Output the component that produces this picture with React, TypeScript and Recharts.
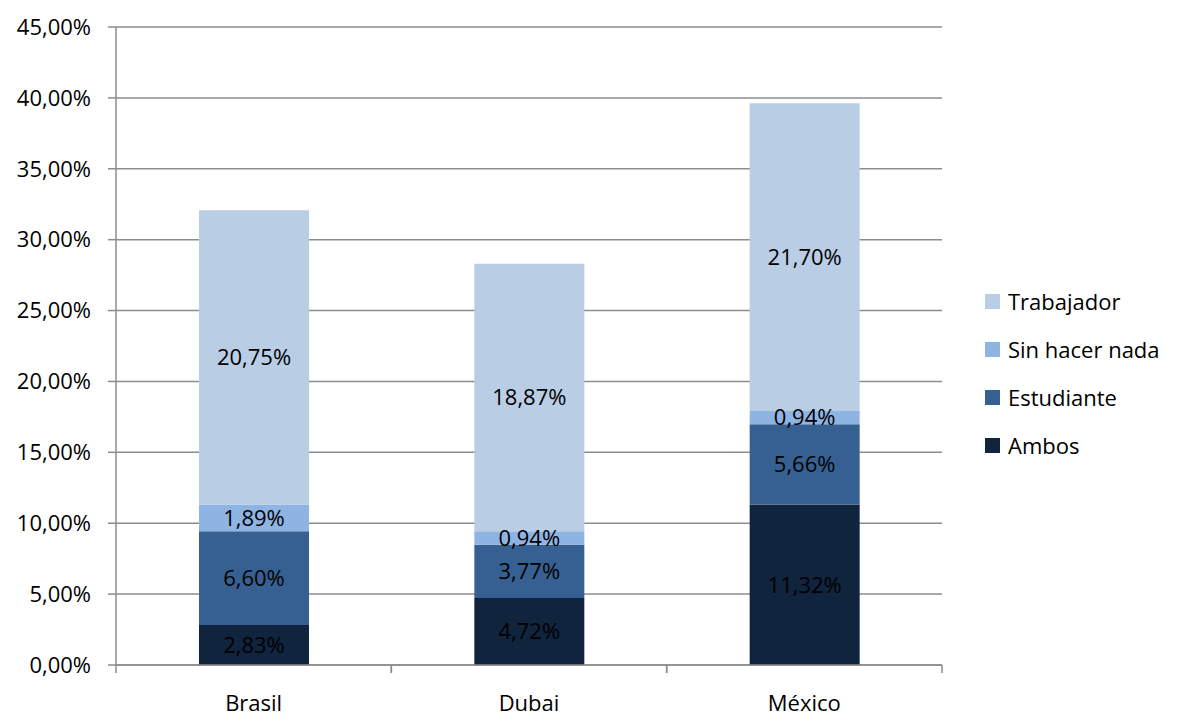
import { Bar, BarChart, CartesianGrid, LabelList, XAxis, YAxis } from "recharts";

const countries = ["Brasil", "Dubai", "México"];
const ambos = [2.83, 4.72, 11.32];
const estudiante = [6.6, 3.77, 5.66];
const sinHacerNada = [1.89, 0.94, 0.94];
const trabajador = [20.75, 18.87, 21.7];
const yTicks = [0, 5, 10, 15, 20, 25, 30, 35, 40, 45];

const series = [
  { key: "ambos", name: "Ambos", color: "#10243e" },
  { key: "estudiante", name: "Estudiante", color: "#376092" },
  { key: "sinHacerNada", name: "Sin hacer nada", color: "#8eb4e3" },
  { key: "trabajador", name: "Trabajador", color: "#b9cde5" },
];

const data = countries.map((c, i) => ({
  country: c,
  ambos: ambos[i],
  estudiante: estudiante[i],
  sinHacerNada: sinHacerNada[i],
  trabajador: trabajador[i],
}));

const FONT = "'Open Sans', sans-serif";
const GRID = "#8c8c8c";
const pct = (v: number) => v.toFixed(2).replace(".", ",") + "%";

// Excel-style category axis: tick marks on the boundaries between categories
const CategoryTick = (props: any) => {
  const { x, y, payload } = props;
  const half = 826 / 3 / 2;
  return (
    <g>
      <line x1={x - half} y1={y - 8} x2={x - half} y2={y} stroke={GRID} strokeWidth={1.5} />
      <line x1={x + half} y1={y - 8} x2={x + half} y2={y} stroke={GRID} strokeWidth={1.5} />
      <text x={x} y={y + 38} textAnchor="middle" fontFamily={FONT} fontSize={22} fill="#000">
        {payload.value}
      </text>
    </g>
  );
};

export default function App() {
  return (
    <div style={{ position: "absolute", left: 0, top: 0, width: 1182, height: 717, background: "#fff" }}>
      <BarChart
        width={1182}
        height={717}
        data={data}
        margin={{ top: 27, right: 240, bottom: 0, left: 0 }}
        barSize={110}
      >
        <CartesianGrid vertical={false} stroke={GRID} strokeWidth={1.5} />
        <XAxis
          dataKey="country"
          height={52}
          stroke={GRID}
          strokeWidth={1.5}
          tickLine={false}
          tick={<CategoryTick />}
          interval={0}
        />
        <YAxis
          width={116}
          domain={[0, 45]}
          ticks={yTicks}
          tickFormatter={pct}
          stroke={GRID}
          strokeWidth={1.5}
          tickSize={8}
          tickMargin={17}
          tick={{ fontFamily: FONT, fontSize: 22, fill: "#000" }}
          interval={0}
        />
        {series.map((s) => (
          <Bar key={s.key} dataKey={s.key} name={s.name} stackId="a" fill={s.color} isAnimationActive={false}>
            <LabelList
              dataKey={s.key}
              position="center"
              formatter={(v: any) => pct(Number(v))}
              style={{ fontFamily: FONT, fontSize: 22, fill: "#000" }}
            />
          </Bar>
        ))}
      </BarChart>
      <div style={{ position: "absolute", left: 985, top: 277, fontFamily: FONT, fontSize: 22, color: "#000" }}>
        {[...series].reverse().map((s) => (
          <div key={s.key} style={{ display: "flex", alignItems: "center", height: 48 }}>
            <span style={{ width: 15, height: 15, background: s.color, marginRight: 8, display: "inline-block" }} />
            {s.name}
          </div>
        ))}
      </div>
    </div>
  );
}
